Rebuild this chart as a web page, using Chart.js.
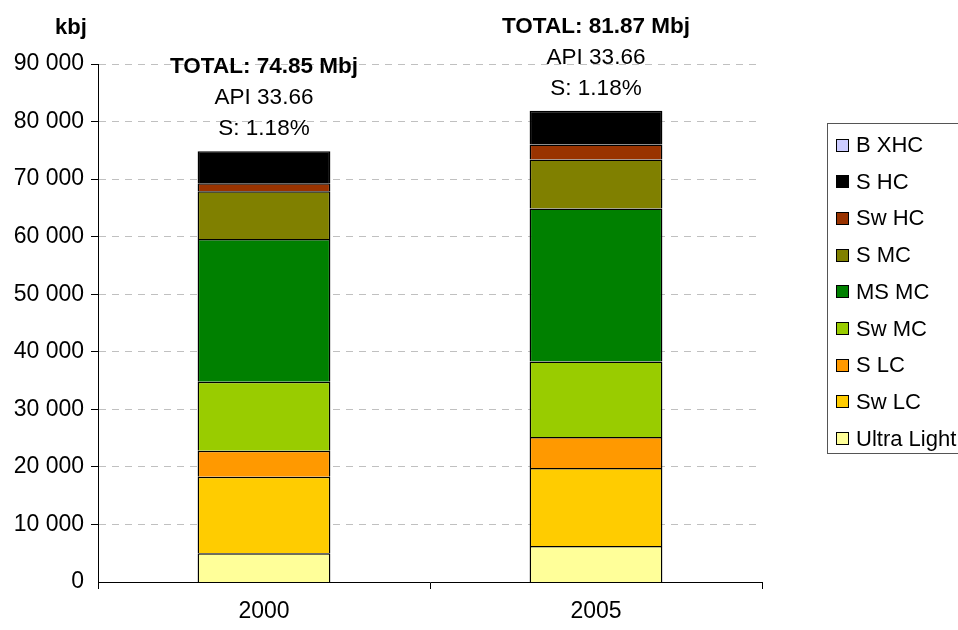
<!DOCTYPE html>
<html>
<head>
<meta charset="utf-8">
<script src="https://cdn.jsdelivr.net/npm/chart.js@4.4.1/dist/chart.umd.min.js"></script>
<style>
  body { margin: 0; background: #fff; }
  #wrap { width: 958px; height: 630px; position: relative; }
</style>
</head>
<body>
<div id="wrap"><canvas id="chart" width="958" height="630"></canvas></div>
<script>
// chart data (kbj)
const categories = ["2000", "2005"];

const ultraLight = [5000, 6260];
const swLC = [13300, 13540];
const sLC = [4500, 5400];
const swMC = [12000, 13100];
const msMC = [24800, 26600];
const sMC = [8300, 8500];
const swHC = [1400, 2600];
const sHC = [5550, 5870];
const bXHC = [0, 0];

const seriesNames = ["Ultra Light", "Sw LC", "S LC", "Sw MC", "MS MC", "S MC", "Sw HC", "S HC", "B XHC"];
const seriesValues = [ultraLight, swLC, sLC, swMC, msMC, sMC, swHC, sHC, bXHC];
const seriesColors = ["#ffff99", "#ffcc00", "#ff9900", "#99cc00", "#008000", "#808000", "#993300", "#000000", "#ccccff"];

const totalLabels = ["TOTAL: 74.85 Mbj", "TOTAL: 81.87 Mbj"];
const apiLabels = ["API 33.66", "API 33.66"];
const sulfurLabels = ["S: 1.18%", "S: 1.18%"];

const yTicks = [0, 10000, 20000, 30000, 40000, 50000, 60000, 70000, 80000, 90000];
const yUnit = "kbj";

const FONT = "'Liberation Sans', Arial, sans-serif";
Chart.defaults.font.family = FONT;
Chart.defaults.font.size = 23;
Chart.defaults.color = "#000";

function fmt(v) {
  return String(v).replace(/\B(?=(\d{3})+(?!\d))/g, " ");
}

// text above bars, unit label and boxed legend
const extras = {
  id: "extras",
  afterDatasetsDraw(chart) {
    const ctx = chart.ctx;
    const x = chart.scales.x;
    const y = chart.scales.y;
    ctx.save();
    ctx.fillStyle = "#000";
    ctx.textAlign = "center";
    ctx.textBaseline = "middle";
    categories.forEach((c, i) => {
      const total = seriesValues.reduce((s, arr) => s + arr[i], 0);
      const cx = x.getPixelForValue(i);
      const top = y.getPixelForValue(total);
      ctx.font = "bold 22.5px " + FONT;
      ctx.fillText(totalLabels[i], cx, top - 84);
      ctx.font = "22.5px " + FONT;
      ctx.fillText(apiLabels[i], cx, top - 53);
      ctx.fillText(sulfurLabels[i], cx, top - 22);
    });

    ctx.font = "bold 22px " + FONT;
    ctx.fillText(yUnit, 71, 28);

    // legend
    const lx = 827, ly = 123, lh = 330;
    ctx.strokeStyle = "#555";
    ctx.lineWidth = 1;
    ctx.strokeRect(lx + 0.5, ly + 0.5, 140, lh);
    ctx.textAlign = "left";
    ctx.font = "22px " + FONT;
    for (let k = 0; k < seriesNames.length; k++) {
      const idx = seriesNames.length - 1 - k;
      const cy = 145 + k * 36.7;
      ctx.fillStyle = seriesColors[idx];
      ctx.fillRect(836, Math.round(cy - 6.5), 13, 13);
      ctx.strokeStyle = "#000";
      ctx.strokeRect(836.5, Math.round(cy - 6.5) + 0.5, 12, 12);
      ctx.fillStyle = "#000";
      ctx.fillText(seriesNames[idx], 856, cy + 1);
    }
    ctx.restore();
  }
};

const datasets = seriesNames.map((name, i) => ({
  label: name,
  data: seriesValues[i],
  backgroundColor: seriesColors[i],
  borderColor: "#000",
  borderWidth: 1.5,
  categoryPercentage: 1,
  barPercentage: 0.4
}));

new Chart(document.getElementById("chart").getContext("2d"), {
  type: "bar",
  data: { labels: categories, datasets: datasets },
  options: {
    responsive: false,
    animation: false,
    layout: { padding: { top: 64, right: 196, left: 0, bottom: 0 } },
    plugins: {
      legend: { display: false },
      tooltip: { enabled: false }
    },
    scales: {
      x: {
        stacked: true,
        afterFit: (s) => { s.height = 48; },
        border: { color: "#000", width: 1 },
        grid: {
          offset: true,
          drawOnChartArea: false,
          drawTicks: true,
          tickLength: 7,
          tickColor: "#000"
        },
        ticks: { padding: 9 }
      },
      y: {
        stacked: true,
        min: 0,
        max: 90000,
        afterFit: (s) => { s.width = 98; },
        afterBuildTicks: (s) => { s.ticks = yTicks.map(v => ({ value: v })); },
        border: { color: "#000", width: 1, dash: [7, 6] },
        grid: {
          color: "#c0c0c0",
          tickBorderDash: [],
          tickColor: "#000",
          tickLength: 7,
          lineWidth: (c) => (c.tick && c.tick.value === 0 ? 0 : 1)
        },
        ticks: {
          padding: 7,
          callback: (v) => fmt(v)
        }
      }
    }
  },
  plugins: [extras]
});
</script>
</body>
</html>
